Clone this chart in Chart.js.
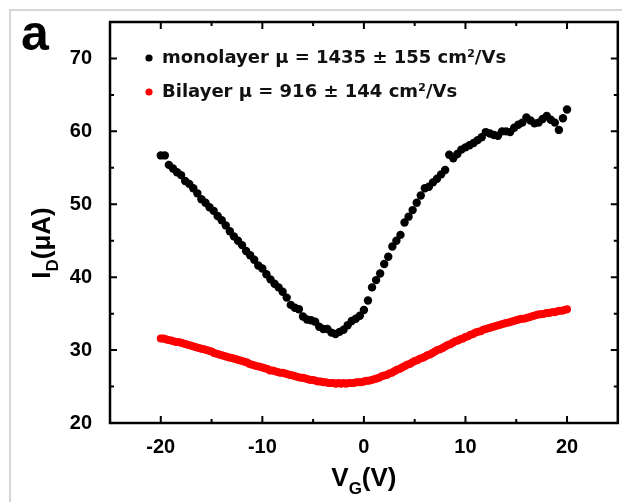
<!DOCTYPE html>
<html>
<head>
<meta charset="utf-8">
<script src="https://cdn.jsdelivr.net/npm/chart.js@4.4.1/dist/chart.umd.min.js"></script>
<style>
  html, body { margin: 0; padding: 0; background: #fff; }
  #wrap { width: 622px; height: 502px; }
</style>
</head>
<body>
<div id="wrap"><canvas id="myChart" width="622" height="502"></canvas></div>
<script>
'use strict';

// gate voltage sweep: -20 V .. 20 V
let vgStart = -20;
let monoStep = 0.4;
let biStep = 0.25;

// monolayer I_D (uA), one value every 0.4 V
let monoCurrent = [
  56.7, 56.7, 55.4, 54.9, 54.4,
  54.0, 53.2, 52.8, 52.2, 51.5,
  50.7, 50.2, 49.6, 49.1, 48.4,
  47.8, 47.1, 46.3, 45.6, 45.0,
  44.4, 43.6, 43.0, 42.4, 41.6,
  41.2, 40.4, 39.7, 39.1, 38.6,
  38.0, 37.2, 36.2, 35.8, 35.6,
  34.6, 34.2, 34.1, 33.9, 33.2,
  32.9, 32.9, 32.4, 32.2, 32.5,
  32.8, 33.4, 34.0, 34.3, 34.7,
  35.5, 36.8, 38.6, 39.6, 40.5,
  41.8, 42.8, 44.2, 45.0, 45.8,
  47.5, 48.3, 49.2, 50.2, 51.2,
  52.2, 52.4, 53.0, 53.5, 54.1,
  54.7, 56.8, 56.3, 56.9, 57.5,
  57.8, 58.1, 58.4, 58.8, 59.2,
  59.9, 59.7, 59.5, 59.4, 60.0,
  60.0, 59.9, 60.5, 60.9, 61.2,
  61.9, 61.5, 61.1, 61.2, 61.7,
  62.1, 61.6, 61.2, 60.2, 61.8,
  63.0
];

// bilayer I_D (uA), one value every 0.25 V
let biCurrent = [
  31.6, 31.6, 31.5, 31.4,
  31.3, 31.2, 31.1, 31.1,
  31.0, 30.9, 30.8, 30.7,
  30.6, 30.5, 30.4, 30.3,
  30.2, 30.1, 30.0, 29.9,
  29.8, 29.6, 29.5, 29.4,
  29.3, 29.2, 29.1, 29.0,
  28.9, 28.8, 28.7, 28.6,
  28.5, 28.4, 28.3, 28.1,
  28.0, 27.9, 27.8, 27.7,
  27.6, 27.5, 27.4, 27.2,
  27.2, 27.1, 27.0, 26.9,
  26.9, 26.8, 26.7, 26.6,
  26.5, 26.4, 26.3, 26.2,
  26.2, 26.1, 26.0, 25.9,
  25.9, 25.8, 25.7, 25.7,
  25.6, 25.6, 25.5, 25.5,
  25.5, 25.4, 25.5, 25.4,
  25.5, 25.4, 25.5, 25.5,
  25.5, 25.6, 25.6, 25.6,
  25.7, 25.8, 25.8, 25.9,
  26.0, 26.1, 26.2, 26.4,
  26.5, 26.6, 26.8, 26.9,
  27.1, 27.3, 27.4, 27.6,
  27.8, 28.0, 28.1, 28.3,
  28.5, 28.6, 28.8, 28.9,
  29.1, 29.3, 29.4, 29.6,
  29.8, 30.0, 30.1, 30.3,
  30.5, 30.7, 30.8, 31.0,
  31.2, 31.3, 31.5, 31.6,
  31.8, 31.9, 32.1, 32.2,
  32.4, 32.5, 32.6, 32.8,
  32.9, 33.0, 33.1, 33.2,
  33.3, 33.4, 33.5, 33.6,
  33.7, 33.8, 33.9, 34.0,
  34.1, 34.2, 34.3, 34.3,
  34.4, 34.5, 34.6, 34.7,
  34.8, 34.9, 34.9, 35.0,
  35.1, 35.1, 35.2, 35.2,
  35.3, 35.4, 35.4, 35.5,
  35.6
];

let seriesNames = ['monolayer \u03bc = 1435 \u00b1 155 cm\u00b2/Vs', 'Bilayer \u03bc = 916 \u00b1 144 cm\u00b2/Vs'];
let xTicks = [-20, -10, 0, 10, 20];
let xMinor = [-15, -5, 5, 15];
let yTicks = [20, 30, 40, 50, 60, 70];
let yMinor = [25, 35, 45, 55, 65];

function toPoints(start, step, values) {
  let pts = [];
  for (let i = 0; i < values.length; i++) {
    pts.push({ x: +(start + i * step).toFixed(2), y: values[i] });
  }
  return pts;
}

let boldFont = '"Liberation Sans", Arial, sans-serif';

// frame, box, inward ticks, panel letter, axis titles, legend
let decorPlugin = {
  id: 'decor',
  beforeDraw(chart) {
    let ctx = chart.ctx;
    ctx.save();
    ctx.fillStyle = '#fff';
    ctx.fillRect(0, 0, chart.width, chart.height);
    ctx.strokeStyle = '#d6d6d6';
    ctx.lineWidth = 2;
    ctx.beginPath();
    ctx.moveTo(10, chart.height);
    ctx.lineTo(10, 10);
    ctx.lineTo(chart.width, 10);
    ctx.stroke();
    ctx.restore();
  },
  afterDraw(chart) {
    let ctx = chart.ctx;
    let a = chart.chartArea;
    let xs = chart.scales.x;
    let ys = chart.scales.y;
    ctx.save();
    ctx.strokeStyle = '#000';
    ctx.lineWidth = 2.5;
    ctx.strokeRect(a.left, a.top, a.right - a.left, a.bottom - a.top);

    ctx.lineWidth = 2;
    ctx.beginPath();
    function xt(v, len) {
      let px = xs.getPixelForValue(v);
      ctx.moveTo(px, a.bottom); ctx.lineTo(px, a.bottom - len);
      ctx.moveTo(px, a.top); ctx.lineTo(px, a.top + len);
    }
    function yt(v, len) {
      let py = ys.getPixelForValue(v);
      ctx.moveTo(a.left, py); ctx.lineTo(a.left + len, py);
      ctx.moveTo(a.right, py); ctx.lineTo(a.right - len, py);
    }
    xTicks.forEach(v => xt(v, 7));
    xMinor.forEach(v => xt(v, 4));
    yTicks.forEach(v => yt(v, 7));
    yMinor.forEach(v => yt(v, 4));
    ctx.stroke();

    ctx.fillStyle = '#000';
    // panel letter
    ctx.font = 'bold 50px ' + boldFont;
    ctx.textBaseline = 'alphabetic';
    ctx.textAlign = 'left';
    ctx.fillText('a', 21, 50);

    // x title V_G(V)
    let big = 'bold 26px ' + boldFont;
    let small = 'bold 17px ' + boldFont;
    function compound(parts) {
      let w = 0;
      parts.forEach(p => { ctx.font = p[1]; w += ctx.measureText(p[0]).width; });
      return w;
    }
    let xParts = [['V', big, 0], ['G', small, 8], ['(V)', big, 0]];
    let w = compound(xParts);
    let cx = (a.left + a.right) / 2 - w / 2;
    xParts.forEach(p => {
      ctx.font = p[1];
      ctx.fillText(p[0], cx, 486 + p[2]);
      cx += ctx.measureText(p[0]).width;
    });

    // y title I_D(uA)
    ctx.save();
    ctx.translate(50, 243);
    ctx.rotate(-Math.PI / 2);
    let yParts = [['I', big, 0], ['D', small, 8], ['(\u03bcA)', big, 0]];
    w = compound(yParts);
    let cy = -w / 2;
    yParts.forEach(p => {
      ctx.font = p[1];
      ctx.fillText(p[0], cy, p[2]);
      cy += ctx.measureText(p[0]).width;
    });
    ctx.restore();

    // legend inside the box
    ctx.font = 'bold 18px "DejaVu Sans", sans-serif';
    ctx.textBaseline = 'middle';
    chart.data.datasets.forEach((ds, i) => {
      let ly = 58 + i * 34;
      ctx.fillStyle = ds.backgroundColor;
      ctx.beginPath();
      ctx.arc(149, ly, 3.6, 0, Math.PI * 2);
      ctx.fill();
      ctx.fillStyle = '#111';
      ctx.fillText(ds.label, 162, ly);
    });
    ctx.restore();
  }
};

let ctx = document.getElementById('myChart').getContext('2d');
let myChart = new Chart(ctx, {
  type: 'scatter',
  data: {
    datasets: [{
      label: seriesNames[0],
      data: toPoints(vgStart, monoStep, monoCurrent),
      backgroundColor: '#000000',
      borderColor: '#000000',
      borderWidth: 0,
      pointRadius: 4.2,
      pointHoverRadius: 4.2
    }, {
      label: seriesNames[1],
      data: toPoints(vgStart, biStep, biCurrent),
      backgroundColor: '#ff0000',
      borderColor: '#ff0000',
      borderWidth: 0,
      pointRadius: 4,
      pointHoverRadius: 4
    }]
  },
  options: {
    responsive: false,
    animation: false,
    layout: { padding: { top: 22, right: 1, left: 0, bottom: 0 } },
    plugins: {
      legend: { display: false },
      tooltip: { enabled: false }
    },
    scales: {
      x: {
        type: 'linear',
        min: -25,
        max: 25,
        grid: { display: false },
        border: { display: false },
        afterFit(scale) { scale.height = 79; },
        afterBuildTicks(scale) { scale.ticks = xTicks.map(v => ({ value: v })); },
        ticks: {
          color: '#000',
          padding: 4,
          font: { family: boldFont, size: 20, weight: 'bold' },
          maxRotation: 0
        }
      },
      y: {
        type: 'linear',
        min: 20,
        max: 75,
        grid: { display: false },
        border: { display: false },
        afterFit(scale) { scale.width = 110; },
        afterBuildTicks(scale) { scale.ticks = yTicks.map(v => ({ value: v })); },
        ticks: {
          color: '#000',
          padding: 10,
          font: { family: boldFont, size: 20, weight: 'bold' }
        }
      }
    }
  },
  plugins: [decorPlugin]
});
</script>
</body>
</html>
